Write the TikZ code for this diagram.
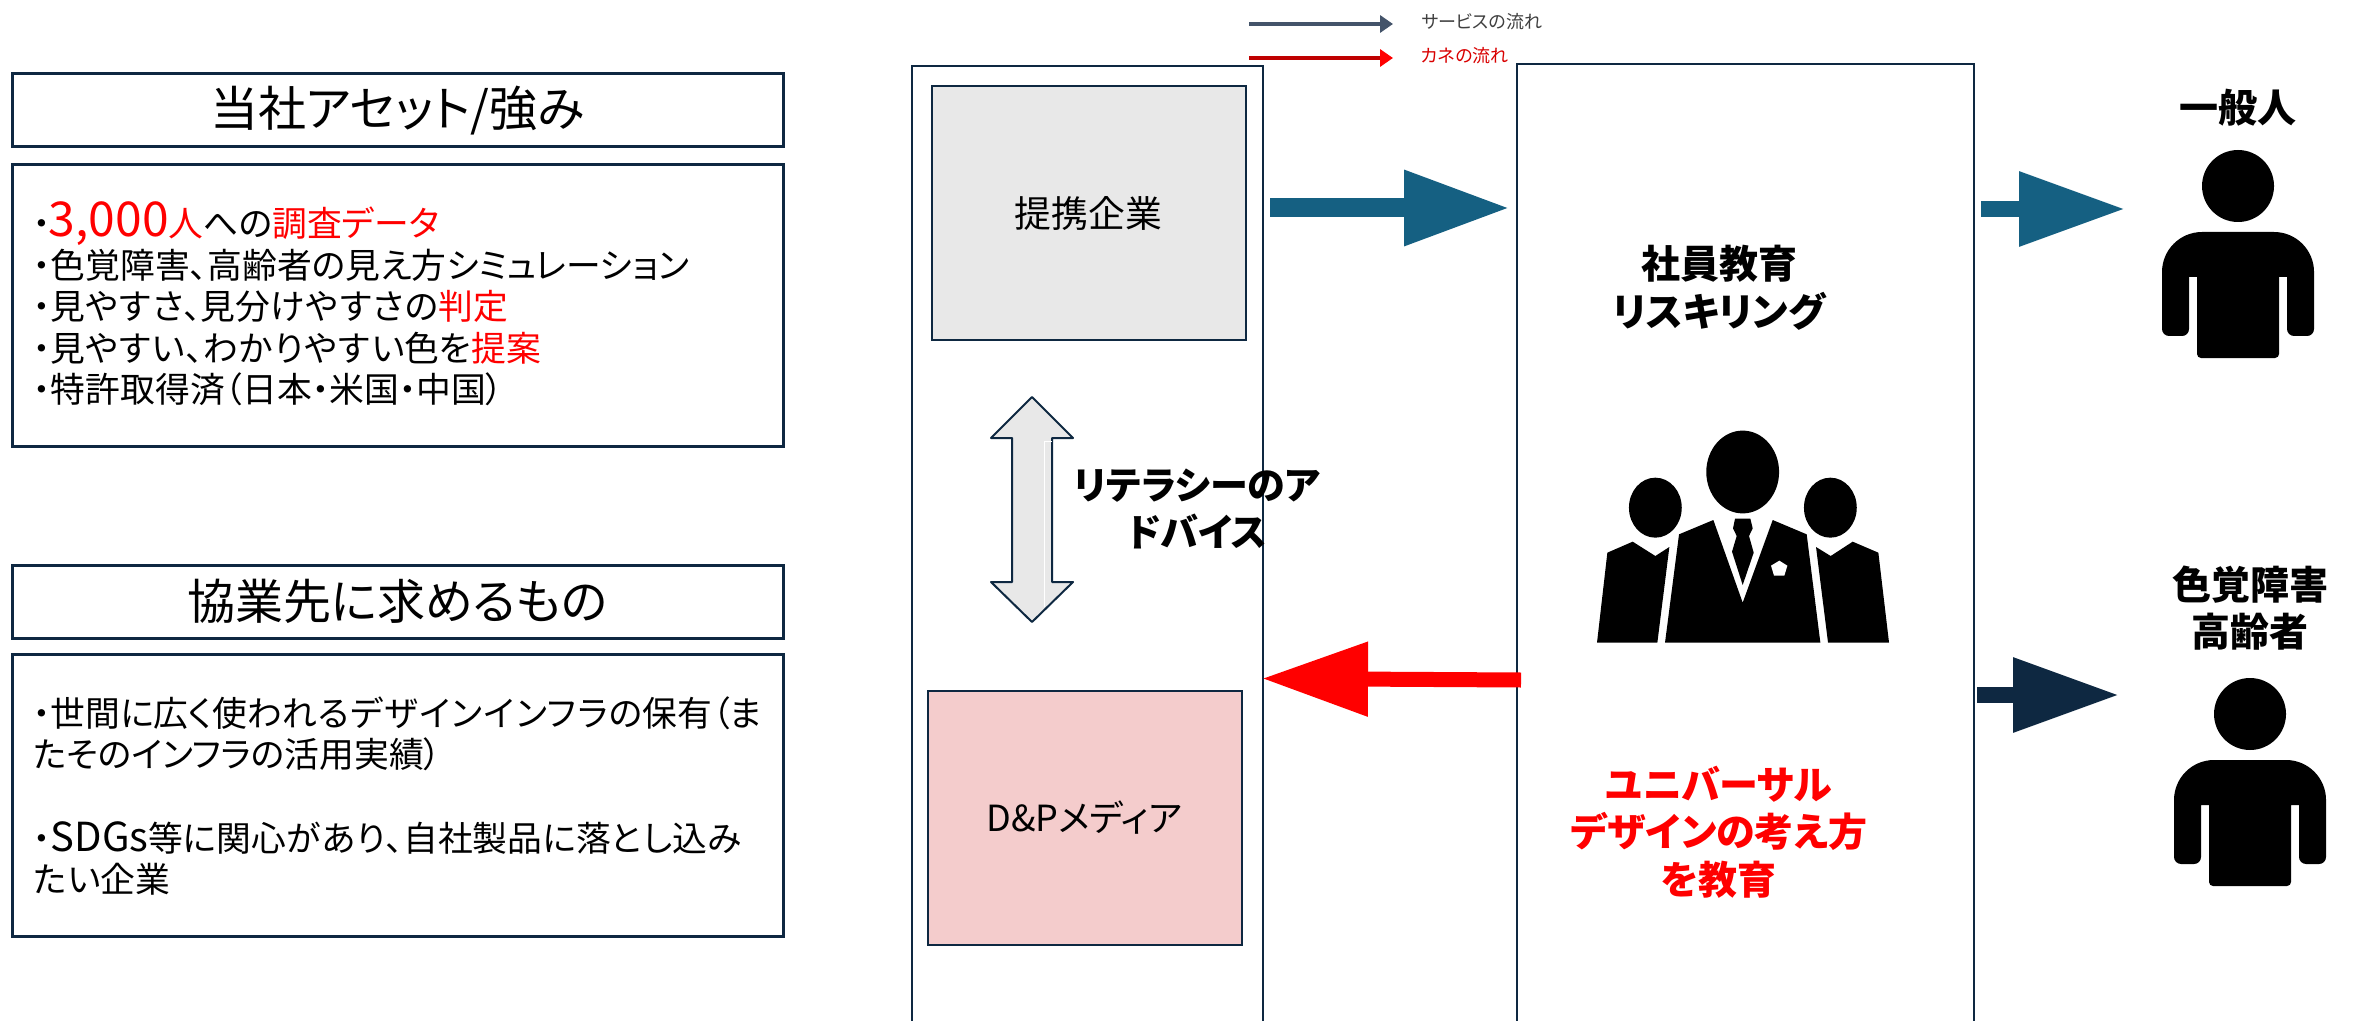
\documentclass[tikz,border=0pt]{standalone}
\usepackage{fontspec}
\usepackage{xcolor}
\usetikzlibrary{arrows.meta}
\setmainfont{Noto Sans CJK JP}[RawFeature=+palt]
\newfontfamily\hgfont{Noto Sans CJK JP}[RawFeature=+palt,LetterSpace=4]
\newcommand{\hg}[1]{{\hgfont #1}}
\newcommand{\bigdigits}[1]{{\fontsize{24pt}{20.8pt}\selectfont #1}}
\newcommand{\midlatin}[1]{{\fontsize{20pt}{20.8pt}\selectfont #1}}
\definecolor{navy}{HTML}{0E2841}
\definecolor{teal}{HTML}{156082}
\definecolor{pink}{HTML}{F4CCCC}
\definecolor{lgrey}{HTML}{E8E8E8}
\definecolor{legblue}{HTML}{44546A}
\tikzset{
  panel/.style={draw=navy,line width=1.5pt,rectangle,inner sep=0pt,outer sep=0pt},
  titlebox/.style={panel,minimum width=385.5pt,minimum height=36.5pt,font=\fontsize{24pt}{28pt}\selectfont},
  listbox/.style={panel,minimum width=385.5pt,minimum height=141pt},
  listtext/.style={anchor=west,align=left,inner sep=0pt,font=\fontsize{17.4pt}{20.8pt}\selectfont},
  card/.style={draw=navy,line width=1pt,rectangle,inner sep=0pt,outer sep=0pt,minimum width=157pt,minimum height=127pt,font=\fontsize{18.4pt}{22pt}\selectfont},
  boldlabel/.style={align=center,inner sep=0pt,font=\fontsize{19.5pt}{23.8pt}\selectfont\bfseries},
  column/.style={draw=navy,line width=1pt},
  block/.style={line width=#1},
  bighead/.style={-{Triangle[length=53pt,width=35.5pt]}},
  leghead/.style={-{Triangle[length=6.5pt,width=8.5pt]}},
  personicon/.pic={
    \fill[black] (0,0) circle[radius=18pt];
    \fill[black] (0,46) [rounded corners=20pt] -- (76,46) [rounded corners=3.5pt] -- (76,150) -- (49,150) [sharp corners] -- (49,91) -- (41,91) [rounded corners=2pt] -- (41,172) -- (-41,172) [sharp corners] -- (-41,91) -- (-49,91) [rounded corners=3.5pt] -- (-49,150) -- (-76,150) [rounded corners=20pt] -- (-76,46) [sharp corners] -- cycle;
  }
}
\begin{document}
\begin{tikzpicture}[x=0.5pt,y=-0.5pt]
\useasboundingbox[fill=white] (0,0) rectangle (2353,1021);
% left panels
\node[titlebox] (t1) at (397.5,110.5) {当社アセット/強み};
\node[listbox] (b1) at (397.5,305.5) {};
\node[listtext] (l1) at (33,304) {・\kern-1pt{\color{red}\bigdigits{3,000}人}への{\color{red}調査データ}\\
・色覚障害、高齢者\hg{の}見\hg{え}方シミュレーション\\
・見\hg{やすさ}、見分\hg{けやすさの}{\color{red}判定}\\
・見\hg{やすい}、\hg{わかりやすい}色\hg{を}{\color{red}提案}\\
・特許取得済（日本・米国・中国）};
\node[titlebox] (t2) at (397.5,601.5) {協業先に求めるもの};
\node[listbox] (b2) at (397.5,795.5) {};
\node[listtext] (l2) at (33,796) {・世間\hg{に}広\hg{く}使\hg{われるデザインインフラの}保有（\hg{ま}\\
たそのインフラの活用実績）\\[20.8pt]
・\midlatin{SDGs}等\hg{に}関心\hg{があり}、自社製品\hg{に}落\hg{とし}込\hg{み}\\
\hg{たい}企業};
% columns
\draw[column] (912,1021) |- (1263,66) -- (1263,1021);
\draw[column] (1517,1021) |- (1974,64) -- (1974,1021);
\node[card,fill=lgrey] (partner) at (1088.5,213.5) {提携企業};
\node[card,fill=pink,font=\fontsize{18pt}{22pt}\selectfont] (media) at (1084.5,817.5) {D\&Pメディア};
% double arrow
\draw[draw=navy,fill=lgrey,line width=1pt,line join=round]
  (1032,397) -- (1073,438) -- (1052,438) -- (1052,582) -- (1073,582) -- (1032,622)
  -- (991,582) -- (1012,582) -- (1012,438) -- (991,438) -- cycle;
\draw[white,line width=.5pt] (1052,441) -- (1044,441) -- (1044,607);
\node[boldlabel,font=\fontsize{19pt}{23.5pt}\selectfont\bfseries] (lit) at (1197,509) {リテラシーのア\\ドバイス};
% block arrows
\coordinate (a1s) at (1270,208);
\coordinate (a1e) at (1510,208);
\draw[teal,block=9.5pt,bighead] (a1s) -- (a1e);
\coordinate (a2s) at (1981,209);
\coordinate (a2e) at (2125,209);
\draw[teal,block=8pt,bighead] (a2s) -- (a2e);
\coordinate (a3s) at (1977,695);
\coordinate (a3e) at (2119,695);
\draw[navy,block=8pt,bighead] (a3s) -- (a3e);
\coordinate (a4s) at (1521,680);
\coordinate (a4e) at (1262,678.5);
\draw[red,block=7.5pt,bighead] (a4s) -- (a4e);
% legend
\coordinate (g1s) at (1249,24);
\coordinate (g1e) at (1393,24);
\coordinate (g2s) at (1249,58);
\coordinate (g2e) at (1393,58);
\draw[legblue,line width=1.8pt,leghead] (g1s) -- (g1e);
\draw[red!75!black,line width=1.8pt,-{Triangle[length=6.5pt,width=8.5pt,red]}] (g2s) -- (g2e);
\node[anchor=west,inner sep=0pt,text=black!75,font=\fontsize{9pt}{11pt}\selectfont] (leg1) at (1421,22) {サービスの流れ};
\node[anchor=west,inner sep=0pt,text=red!85!black,font=\fontsize{9pt}{11pt}\selectfont] (leg2) at (1421,56) {カネの流れ};
% center labels
\node[boldlabel] (edu) at (1719,288) {社員教育\\リスキリング};
\node[boldlabel,text=red] (ud) at (1719,832) {ユニバーサル\\デザインの考え方\\を教育};
% group icon
\begin{scope}[shift={(1550,400)},x=0.16667pt,y=-0.16667pt]
  \fill[black] (578,216) ellipse[x radius=18.2pt,y radius=20.7pt];
  \fill[black] (316,323) ellipse[x radius=13.2pt,y radius=15pt];
  \fill[black] (841,323) ellipse[x radius=13.2pt,y radius=15pt];
  \fill[black] (345,728) -- (387,403) -- (490,360) -- (578,608) -- (668,360) -- (770,403) -- (811,728) -- cycle;
  \fill[black] (555,356) -- (601,356) -- (608,385) -- (597,408) -- (611,458) -- (578,555) -- (546,455) -- (560,408) -- (549,385) -- cycle;
  \fill[white] (688,482) -- (712,497) -- (703,527) -- (672,527) -- (663,497) -- cycle;
  \fill[black] (141,728) -- (172,458) -- (248,425) -- (316,468) -- (358,441) -- (322,728) -- cycle;
  \fill[black] (834,728) -- (798,441) -- (842,468) -- (908,425) -- (985,458) -- (1017,728) -- cycle;
\end{scope}
% persons
\node[boldlabel] (gen) at (2238,108) {一般人};
\pic at (2238,186) {personicon};
\node[boldlabel] (cvd) at (2250,608) {色覚障害\\高齢者};
\pic at (2250,714) {personicon};
\end{tikzpicture}
\end{document}
